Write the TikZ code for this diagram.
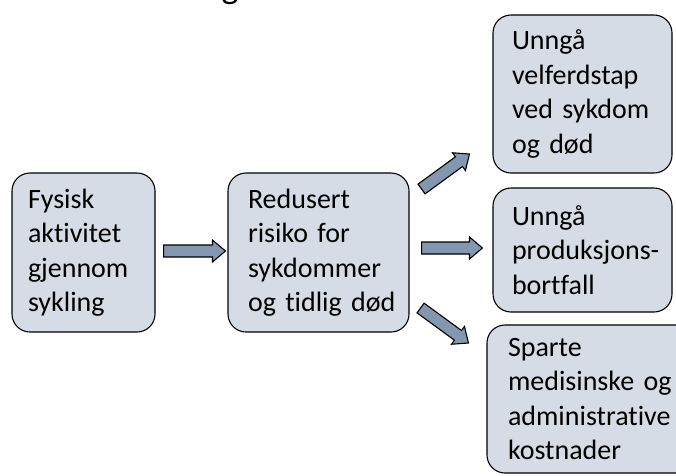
\documentclass[tikz,border=0pt]{standalone}
\usepackage{fontspec}
\setmainfont{Carlito}[Ligatures=NoCommon]
\usetikzlibrary{calc}
\definecolor{boxfill}{HTML}{D6DCE5}
\definecolor{arrfill}{HTML}{8497B0}
\newcommand{\blockarr}[2]{%
  \coordinate (hb) at ($(#2)!13pt!(#1)$);
  \draw[blk] ($(#1)!6pt!90:(#2)$) -- ($(hb)!6pt!90:(#2)$) -- ($(hb)!11pt!90:(#2)$) -- (#2)
    -- ($(hb)!11pt!-90:(#2)$) -- ($(hb)!6pt!-90:(#2)$) -- ($(#1)!6pt!-90:(#2)$) -- cycle;}
\begin{document}
\begin{tikzpicture}[x=1pt,y=-1pt,
  box/.style={draw=black, line width=1.1pt, fill=boxfill, rounded corners=18pt,
    align=left, font=\fontsize{28}{34.5}\selectfont, inner ysep=0pt, anchor=center},
  blk/.style={draw=black, line width=1.1pt, fill=arrfill, line join=miter}]
\useasboundingbox (0,0) rectangle (676,475);
\node[font=\fontsize{36}{40}\selectfont, anchor=south, inner sep=0pt] (ttl) at (230,5) {g};
\node[box, minimum width=143pt, minimum height=159pt, text width=111pt, inner xsep=16pt] (b1) at (83.5,252.5) {Fysisk\\aktivitet\\gjennom\\sykling};
\node[box, minimum width=181pt, minimum height=159pt, text width=141pt, inner xsep=20pt] (b2) at (318.5,252.5) {Redusert\\\mbox{risiko for}\\sykdommer\\\mbox{og tidlig død}};
\node[box, minimum width=179pt, minimum height=158pt, text width=141pt, inner xsep=19pt] (b3) at (582.5,94) {Unngå\\velferdstap\\\mbox{ved sykdom}\\\mbox{og død}};
\node[box, minimum width=179pt, minimum height=124pt, text width=141pt, inner xsep=19pt] (b4) at (582.5,250) {Unngå\\\mbox{produksjons-}\\bortfall};
\node[box, minimum width=222pt, minimum height=148pt, text width=180pt, inner xsep=21pt] (b5) at (598,399) {Sparte\\\mbox{medisinske og}\\administrative\\kostnader};
\coordinate (a1s) at ($(b1.east)+(8,-1.5)$);
\coordinate (a1e) at ($(b2.west)+(-2,-1.5)$);
\coordinate (a2s) at ($(b2.east)+(12,-63.5)$);
\coordinate (a2e) at ($(b3.west)+(-23,60)$);
\coordinate (a3s) at ($(b2.east)+(12,-4.5)$);
\coordinate (a3e) at ($(b4.west)+(-10,-2)$);
\coordinate (a4s) at ($(b2.east)+(11,55.5)$);
\coordinate (a4e) at ($(b5.west)+(-18,-56)$);
\blockarr{a1s}{a1e}
\blockarr{a2s}{a2e}
\blockarr{a3s}{a3e}
\blockarr{a4s}{a4e}
\end{tikzpicture}
\end{document}
